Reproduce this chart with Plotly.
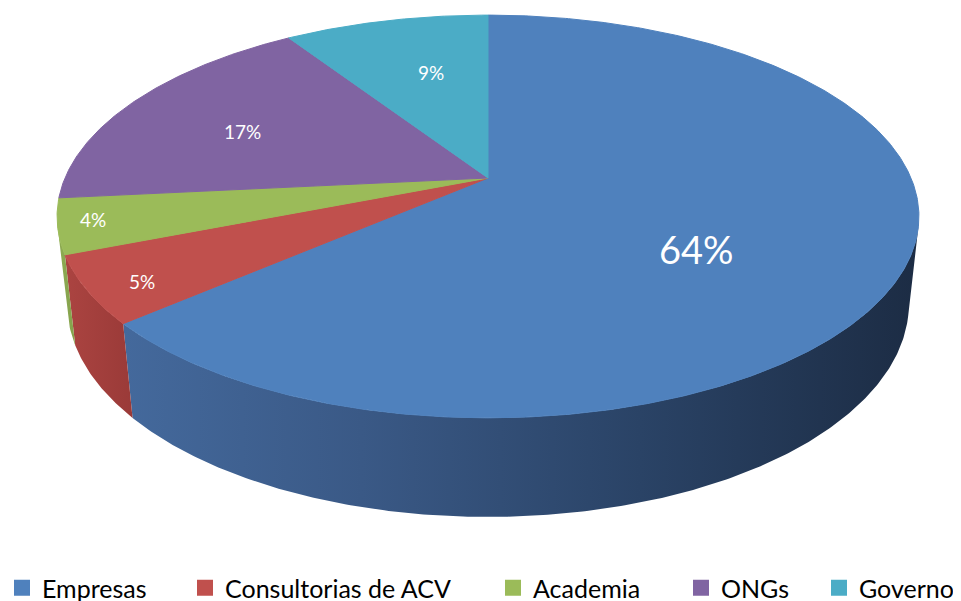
import math
import plotly.graph_objects as go

# ---- data ----
categories = ["Empresas", "Consultorias de ACV", "Academia", "ONGs", "Governo"]
values = [63.6, 5.4, 4.4, 17.4, 9.2]          # percentage shares
percent_labels = [f"{round(v)}%" for v in values]

# ---- styles ----
TOP_COLORS = ["#4f81bd", "#c0504d", "#9bbb59", "#8064a2", "#4bacc6"]
SIDE_SCALES = [
    [[0, "#44699c"], [0.3, "#3a5986"], [0.65, "#2a4366"], [1, "#1c2c44"]],
    [[0, "#ab4441"], [1, "#9a3a38"]],
    [[0, "#8eac53"], [1, "#84a14c"]],
    [[0, "#6f5690"], [1, "#5e4879"]],
    [[0, "#3f97ae"], [1, "#357f93"]],
]
LABEL_SIZES = [38, 19, 19, 19, 19]
LABEL_R = [0.52, 0.875, 0.92, 0.68, 0.52]
LABEL_DY = [27, 7, -3, 7, -17]
LEGEND_TEXT_STARTS = [42, 225, 533, 721, 859]
FONT = "Lato"

W, H = 961, 601
PAGE_OFF = 8          # default body margin of the html page
FW, FH = W - PAGE_OFF, H - PAGE_OFF

# perspective camera model for the pie (page pixel space)
CX, CY = 488.0, 178.0
ELEV = math.radians(27.3)
DIST = 4.65
SCALE = 1967.0
THICK = 0.234
SIL = math.degrees(math.acos(-1.0 / (DIST * math.cos(ELEV))))  # silhouette angle


def project(theta_deg, r=1.0, z=0.0):
    t = math.radians(theta_deg)
    px, py = r * math.sin(t), r * math.cos(t)
    ce, se = math.cos(ELEV), math.sin(ELEV)
    depth = DIST + py * ce - z * se
    sx = px / depth
    sy = (py * se + z * ce) / depth
    return CX + SCALE * sx, CY - SCALE * sy


def arc(a, b, z=0.0, n=None):
    n = n or max(4, int(abs(b - a) * 2))
    return [project(a + (b - a) * i / n, 1.0, z) for i in range(n + 1)]


total = sum(values)
bounds = []
acc = 0.0
for v in values:
    a = acc / total * 360.0
    acc += v
    bounds.append((a, acc / total * 360.0))

fig = go.Figure()

# side walls (front half only, between the silhouettes)
lo, hi = 360 - SIL, SIL
lo, hi = min(lo, hi), max(lo, hi)
for i, (a, b) in enumerate(bounds):
    s, e = max(a, lo), min(b, hi)
    if e <= s:
        continue
    top = arc(s, e)
    bot = arc(s, e, z=-THICK)
    pts = top + bot[::-1] + [top[0]]
    fig.add_trace(go.Scatter(
        x=[p[0] for p in pts], y=[p[1] for p in pts],
        mode="lines", fill="toself", line=dict(width=0, color=TOP_COLORS[i]),
        fillgradient=dict(type="horizontal", colorscale=SIDE_SCALES[i]),
        hoverinfo="skip", showlegend=False))

# top faces
for i, (a, b) in enumerate(bounds):
    pts = [project(0, 0)] + arc(a, b) + [project(0, 0)]
    fig.add_trace(go.Scatter(
        x=[p[0] for p in pts], y=[p[1] for p in pts],
        mode="lines", fill="toself", fillcolor=TOP_COLORS[i],
        line=dict(width=1, color=TOP_COLORS[i]),
        hoverinfo="text", text=f"{categories[i]}: {percent_labels[i]}",
        showlegend=False))

# labels
for i, (a, b) in enumerate(bounds):
    x, y = project((a + b) / 2, LABEL_R[i])
    fig.add_annotation(x=x, y=y + LABEL_DY[i], text=percent_labels[i],
                       showarrow=False, xanchor="center", yanchor="middle",
                       font=dict(family=FONT, size=LABEL_SIZES[i], color="white"))

# legend (one legend box per entry, spaced like the original)
legend_layout = {}
for i, cat in enumerate(categories):
    key = "legend" if i == 0 else f"legend{i + 1}"
    fig.add_trace(go.Scatter(
        x=[None], y=[None], mode="markers", name=cat,
        marker=dict(symbol="square", size=16, color=TOP_COLORS[i]),
        legend=key, showlegend=True))
    legend_layout[key] = dict(
        x=(LEGEND_TEXT_STARTS[i] - 40 - PAGE_OFF) / FW, xanchor="left",
        y=1 - (588 - PAGE_OFF) / FH, yanchor="middle", orientation="h",
        bgcolor="rgba(0,0,0,0)", borderwidth=0,
        font=dict(family=FONT, size=25, color="#000000"))

fig.update_layout(
    width=FW, height=FH,
    margin=dict(l=0, r=0, t=0, b=0, autoexpand=False),
    paper_bgcolor="white", plot_bgcolor="white",
    xaxis=dict(range=[PAGE_OFF, W], visible=False, fixedrange=True),
    yaxis=dict(range=[H, PAGE_OFF], visible=False, fixedrange=True),
    **legend_layout)

fig.write_html("out.html")
